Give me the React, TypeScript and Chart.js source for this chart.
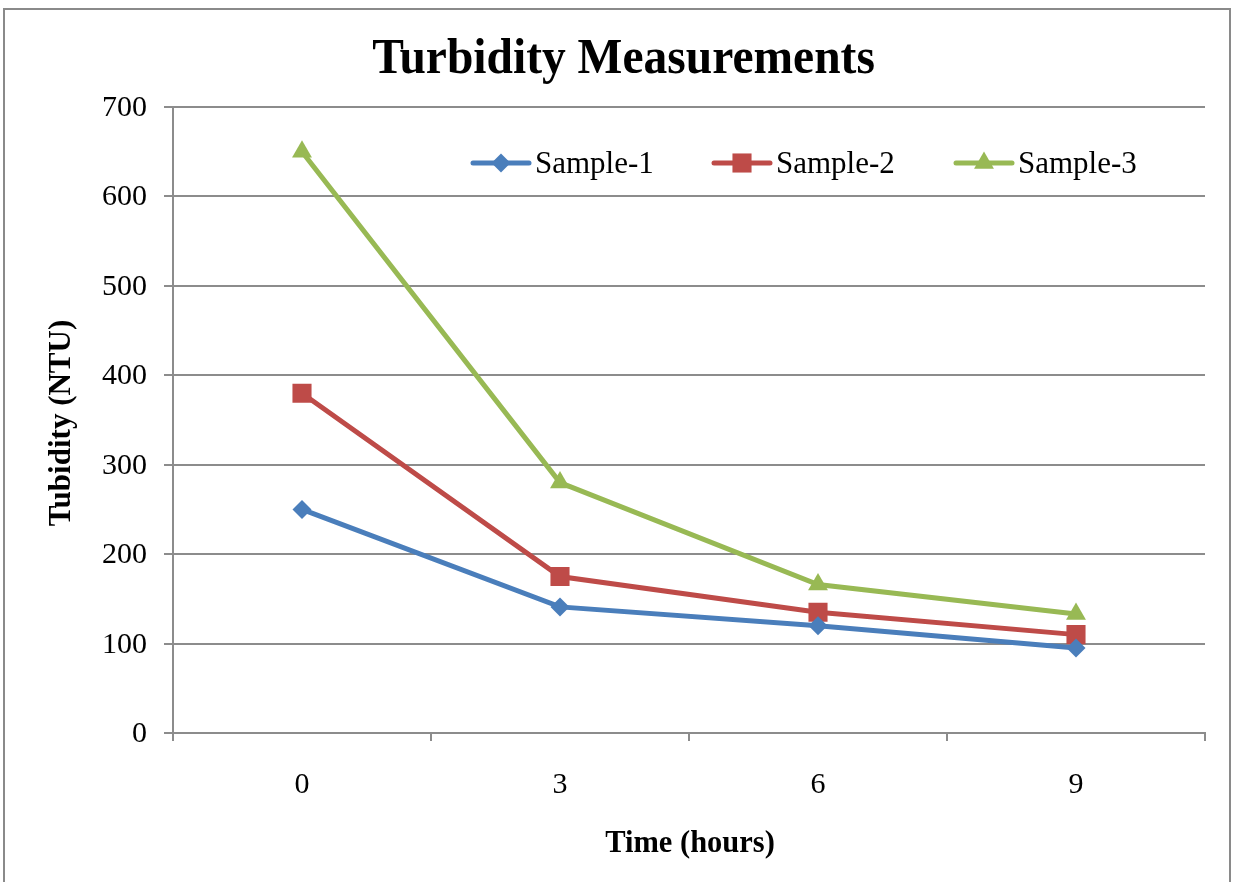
import React, { useEffect, useRef } from "react";
import { Chart, registerables } from "chart.js";

Chart.register(...registerables);

const categories = ["0", "3", "6", "9"];
const sample1 = [250, 141, 120, 95];
const sample2 = [380, 175, 135, 110];
const sample3 = [650, 280, 166, 133];
const seriesNames = ["Sample-1", "Sample-2", "Sample-3"];
const colors = ["#4A7EBB", "#BE4B48", "#98B954"];
const pointStyles = ["rectRot", "rect", "triangle"];
const pointRadii = [9.5, 13.5, 11.5];
const chartTitle = "Turbidity Measurements";
const yTitle = "Tubidity (NTU)";
const xTitle = "Time (hours)";

const SERIF = '"Liberation Serif", "Times New Roman", serif';
const GRID = "#8c8c8c";

function drawMarker(ctx: CanvasRenderingContext2D, style: string, x: number, y: number, r: number, color: string) {
  ctx.save();
  ctx.fillStyle = color;
  ctx.beginPath();
  if (style === "rectRot") {
    ctx.moveTo(x, y - r);
    ctx.lineTo(x + r, y);
    ctx.lineTo(x, y + r);
    ctx.lineTo(x - r, y);
  } else if (style === "rect") {
    const h = r * Math.SQRT1_2;
    ctx.rect(x - h, y - h, 2 * h, 2 * h);
  } else {
    ctx.moveTo(x, y - r);
    ctx.lineTo(x + r * 0.866, y + r * 0.5);
    ctx.lineTo(x - r * 0.866, y + r * 0.5);
  }
  ctx.closePath();
  ctx.fill();
  ctx.restore();
}

function drawText(
  ctx: CanvasRenderingContext2D,
  text: string,
  x: number,
  y: number,
  font: string,
  sy: number,
  align: CanvasTextAlign,
  rotate = 0
) {
  ctx.save();
  ctx.translate(x, y);
  if (rotate) ctx.rotate(rotate);
  ctx.scale(1, sy);
  ctx.font = font;
  ctx.textAlign = align;
  ctx.textBaseline = "alphabetic";
  ctx.fillStyle = "#000";
  ctx.fillText(text, 0, 0);
  ctx.restore();
}

const textPlugin = {
  id: "textPlugin",
  afterDraw(chart: any) {
    const ctx: CanvasRenderingContext2D = chart.ctx;
    ctx.save();

    drawText(ctx, chartTitle, 623.5, 73, `bold 47.5px ${SERIF}`, 1.05, "center");
    drawText(ctx, xTitle, 690, 852, `bold 30.5px ${SERIF}`, 1.05, "center");
    drawText(ctx, yTitle, 70, 423, `bold 31px ${SERIF}`, 1.03, "center", -Math.PI / 2);

    // tick labels
    const xs = chart.scales.x;
    xs.ticks.forEach((t: any, i: number) => {
      const px = xs.getPixelForTick(i);
      const label = categories[t.value] ?? String(t.label);
      drawText(ctx, label, px, 793, `30px ${SERIF}`, 1.0, "center");
    });
    const ys = chart.scales.y;
    ys.ticks.forEach((t: any, i: number) => {
      const py = ys.getPixelForTick(i);
      drawText(ctx, String(t.label), 147, py + 9, `30px ${SERIF}`, 1.0, "right");
    });

    // legend
    const legendX = [473, 714, 956];
    const ly = 163;
    for (let i = 0; i < seriesNames.length; i++) {
      const x0 = legendX[i];
      ctx.strokeStyle = colors[i];
      ctx.lineWidth = 5;
      ctx.lineCap = "round";
      ctx.beginPath();
      ctx.moveTo(x0, ly);
      ctx.lineTo(x0 + 56, ly);
      ctx.stroke();
      drawMarker(ctx, pointStyles[i], x0 + 28, ly, pointRadii[i], colors[i]);
      drawText(ctx, seriesNames[i], x0 + 62, 173, `31px ${SERIF}`, 1.0, "left");
    }
    ctx.restore();
  },
};

export default function App() {
  const ref = useRef<HTMLCanvasElement | null>(null);

  useEffect(() => {
    if (!ref.current) return;
    const values = [sample1, sample2, sample3];
    const chart = new Chart(ref.current, {
      type: "line",
      data: {
        labels: categories,
        datasets: values.map((d, i) => ({
          label: seriesNames[i],
          data: d,
          borderColor: colors[i],
          backgroundColor: colors[i],
          borderWidth: 5,
          pointStyle: pointStyles[i] as any,
          pointRadius: pointRadii[i],
          pointHoverRadius: pointRadii[i],
          pointBackgroundColor: colors[i],
          pointBorderColor: colors[i],
          pointBorderWidth: 0,
          tension: 0,
          fill: false,
        })),
      },
      options: {
        animation: false,
        responsive: false,
        maintainAspectRatio: false,
        devicePixelRatio: 1,
        layout: { padding: { top: 107, right: 30, left: 0, bottom: 0 } },
        plugins: {
          legend: { display: false },
          title: { display: false },
          tooltip: { enabled: false },
        },
        scales: {
          x: {
            type: "category",
            offset: true,
            grid: {
              offset: true,
              drawOnChartArea: false,
              drawTicks: true,
              tickLength: 8,
              color: GRID,
              lineWidth: 2,
            },
            border: { display: true, color: GRID, width: 2 },
            ticks: { display: false },
            afterFit: (s: any) => {
              s.height = 149;
            },
          },
          y: {
            min: 0,
            max: 700,
            ticks: { stepSize: 100, display: false },
            grid: {
              color: GRID,
              lineWidth: 2,
              tickLength: 9,
              drawTicks: true,
            },
            border: { display: true, color: GRID, width: 2 },
            afterFit: (s: any) => {
              s.width = 173;
            },
          },
        },
      },
      plugins: [textPlugin],
    });
    return () => chart.destroy();
  }, []);

  return (
    <div
      style={{
        position: "absolute",
        left: 0,
        top: 0,
        width: 1235,
        height: 882,
        overflow: "hidden",
        background: "#fff",
      }}
    >
      <canvas ref={ref} width={1235} height={882} style={{ position: "absolute", left: 0, top: 0, width: 1235, height: 882 }} />
      <div
        style={{
          position: "absolute",
          left: 3,
          top: 8,
          width: 1228,
          height: 900,
          border: "2px solid #8a8a8a",
          boxSizing: "border-box",
          pointerEvents: "none",
        }}
      />
    </div>
  );
}
